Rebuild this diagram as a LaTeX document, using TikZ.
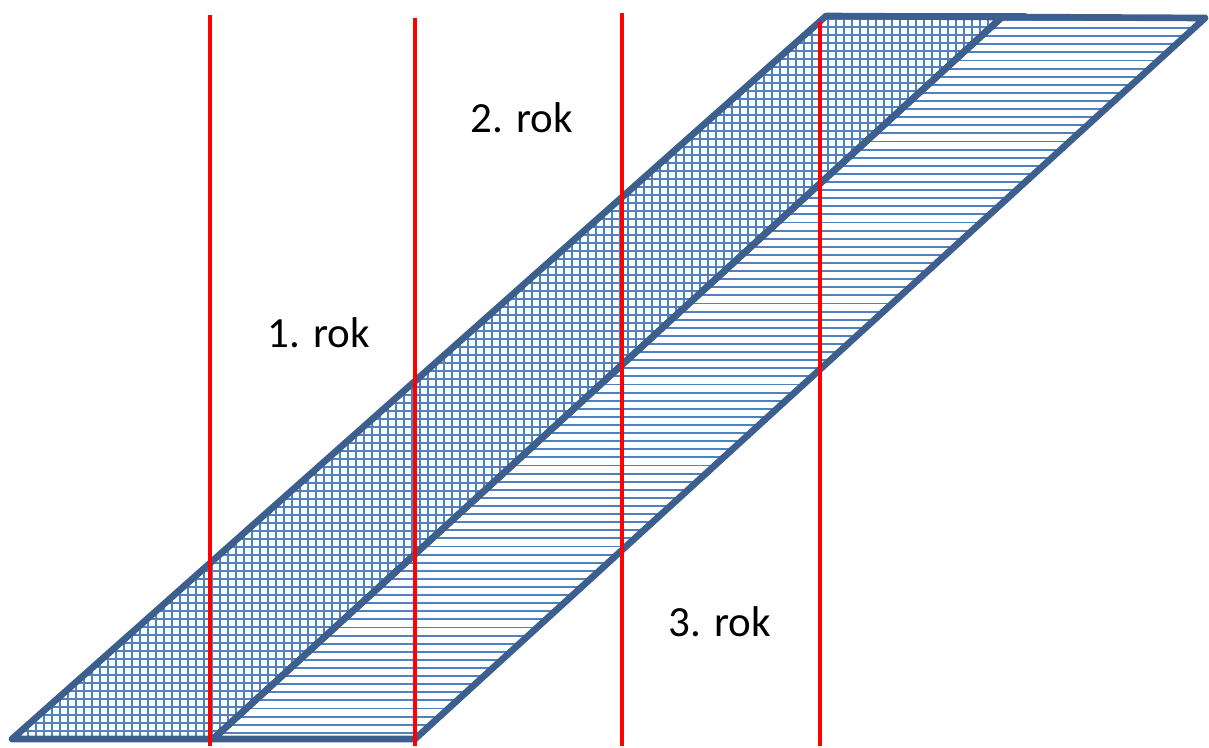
\documentclass[tikz,border=0pt]{standalone}
\usepackage{fontspec}
\setmainfont{Carlito}
\definecolor{rim}{HTML}{3C5F8D}
\definecolor{hatch}{HTML}{4F81BD}
\definecolor{year}{HTML}{FF0000}

\begin{document}
\begin{tikzpicture}[x=0.02cm,y=-0.02cm,
  rimline/.style={rim,line width=3.8pt,line join=round,line cap=round},
  hatchline/.style={hatch,line width=1.1pt},
  yearline/.style={year,line width=2.2pt},
  yearlabel/.style={font=\fontsize{24.5}{29}\selectfont,text=black}]
  \useasboundingbox (0,0) rectangle (1209,747);

  % Corners of the two bands
  \coordinate (a1) at (12,739);
  \coordinate (a2) at (213,739);
  \coordinate (a3) at (1002,17);
  \coordinate (a4) at (826,16);
  \coordinate (b2) at (415,739);
  \coordinate (b3) at (1205,18);

  % Grid hatch in the left band
  \begin{scope}
    \clip (a1)--(a2)--(a3)--(a4)--cycle;
    \foreach \x in {12,20,...,1010}
      \draw[hatchline] (\x,10)--(\x,745);
    \foreach \y in {19,27,...,739}
      \draw[hatchline] (0,\y)--(1010,\y);
  \end{scope}

  % Line hatch in the right band
  \begin{scope}
    \clip (a2)--(b2)--(b3)--(a3)--cycle;
    \foreach \i in {0,...,90}
      \draw[hatchline] (200,{20+8.1*\i})--(1209,{20+8.1*\i});
  \end{scope}

  % Outlines
  \draw[rimline] (a1)--(a2)--(a3)--(a4)--cycle;
  \draw[rimline] (a2)--(b2)--(b3)--(a3)--cycle;
  \draw[rimline] (a4)--(1025,16);

  % Year boundaries
  \draw[yearline] (210,15)--(210,746);
  \draw[yearline] (415,18)--(415,746);
  \draw[yearline] (622,13)--(622,746);
  \draw[yearline] (820,22)--(820,746);

  \node[yearlabel] (lbl1) at (319,333) {1. rok};
  \node[yearlabel] (lbl2) at (522,118) {2. rok};
  \node[yearlabel] (lbl3) at (720,622) {3. rok};
\end{tikzpicture}
\end{document}
